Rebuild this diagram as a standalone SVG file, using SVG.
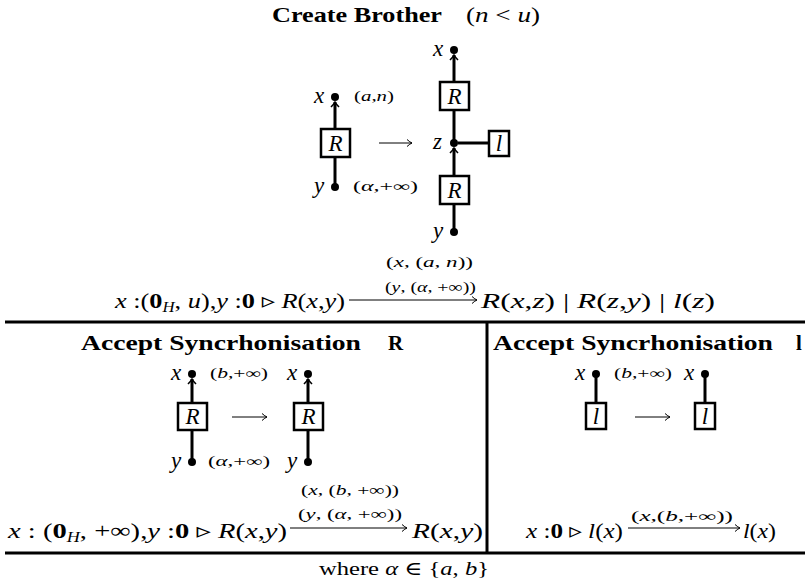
<svg xmlns="http://www.w3.org/2000/svg" width="807" height="581" viewBox="0 0 807 581">
<style>
text{font-family:"Liberation Serif","DejaVu Serif",serif;fill:#000}
.tt{font-weight:bold;font-size:21px}
.m{font-size:22px}
.i{font-style:italic}
.b{font-weight:bold}
.sub{font-size:14px;font-style:italic}
.s{font-size:14px}
.lab{font-size:23px;font-style:italic}
.sm{font-size:15px}
.box{fill:#fff;stroke:#000;stroke-width:2.5}
.e{stroke:#000;stroke-width:3;fill:none}
.th{stroke:#000;stroke-width:1;fill:none}
.sep{stroke:#000;stroke-width:3}
.dot{fill:#000}
</style>
<defs>
<marker id="tip" viewBox="-7 -5 8 10" refX="0" refY="0" markerWidth="8" markerHeight="10" markerUnits="userSpaceOnUse" orient="auto" overflow="visible">
<path d="M-5,-4 Q-2,-1 0,0 Q-2,1 -5,4" fill="none" stroke="#000" stroke-width="1.6"/>
</marker>
<marker id="ar" viewBox="-7 -5 8 10" refX="0" refY="0" markerWidth="8" markerHeight="10" markerUnits="userSpaceOnUse" orient="auto" overflow="visible">
<path d="M-5,-3.5 Q-2,-0.8 0,0 Q-2,0.8 -5,3.5" fill="none" stroke="#000" stroke-width="1"/>
</marker>
</defs>

<g id="frame">
<line class="sep" x1="5" y1="322" x2="805" y2="322"/>
<line class="sep" x1="5" y1="553" x2="805" y2="553"/>
<line class="sep" x1="487" y1="322" x2="487" y2="553"/>
</g>

<!-- titles -->
<text class="tt" x="272" y="22" textLength="170" lengthAdjust="spacingAndGlyphs">Create Brother</text>
<text class="m" x="466" y="22" textLength="74" lengthAdjust="spacingAndGlyphs">(<tspan class="i">n</tspan> &lt; <tspan class="i">u</tspan>)</text>
<text class="tt" x="81" y="350" textLength="280" lengthAdjust="spacingAndGlyphs">Accept Syncrhonisation</text>
<text class="tt" x="388" y="350">R</text>
<text class="tt" x="493" y="350" textLength="280" lengthAdjust="spacingAndGlyphs">Accept Syncrhonisation</text>
<text class="tt" x="796" y="350">l</text>

<g id="connectors">
<line class="e" x1="335" y1="129" x2="335" y2="102" marker-end="url(#tip)"/>
<line class="e" x1="335" y1="157" x2="335" y2="184"/>
<line class="th" x1="379" y1="143" x2="412" y2="143" marker-end="url(#ar)"/>
<line class="e" x1="454" y1="82" x2="454" y2="55" marker-end="url(#tip)"/>
<line class="e" x1="454" y1="110" x2="454" y2="140"/>
<line class="e" x1="458" y1="143" x2="489" y2="143"/>
<line class="e" x1="454" y1="176" x2="454" y2="148" marker-end="url(#tip)"/>
<line class="e" x1="454" y1="204" x2="454" y2="229"/>
<line class="th" x1="349" y1="300" x2="477" y2="300" marker-end="url(#ar)"/>
<line class="e" x1="192" y1="403" x2="192" y2="379" marker-end="url(#tip)"/>
<line class="e" x1="192" y1="430" x2="192" y2="459"/>
<line class="e" x1="308" y1="403" x2="308" y2="379" marker-end="url(#tip)"/>
<line class="e" x1="308" y1="430" x2="308" y2="459"/>
<line class="th" x1="232" y1="417" x2="267" y2="417" marker-end="url(#ar)"/>
<line class="th" x1="290" y1="528" x2="407" y2="528" marker-end="url(#ar)"/>
<line class="e" x1="596" y1="377" x2="596" y2="403"/>
<line class="e" x1="705" y1="377" x2="705" y2="403"/>
<line class="th" x1="635" y1="417" x2="670" y2="417" marker-end="url(#ar)"/>
<line class="th" x1="628" y1="528" x2="740" y2="528" marker-end="url(#ar)"/>
</g>

<!-- Create Brother left -->
<g id="cb-x1"><text class="lab" x="314" y="103">x</text><circle class="dot" cx="335" cy="97" r="4"/></g>
<text class="s" x="354" y="101" textLength="40" lengthAdjust="spacingAndGlyphs">(<tspan class="i">a</tspan>,<tspan class="i">n</tspan>)</text>
<g id="cb-R1"><rect class="box" x="321" y="129" width="29" height="28"/><text class="lab" x="335.5" y="151" text-anchor="middle">R</text></g>
<g id="cb-y1"><text class="lab" x="314" y="193">y</text><circle class="dot" cx="335" cy="187" r="4"/></g>
<text class="s" x="353" y="191" textLength="65" lengthAdjust="spacingAndGlyphs">(<tspan class="i">α</tspan>,+∞)</text>

<!-- Create Brother right -->
<g id="cb-x2"><text class="lab" x="433" y="56">x</text><circle class="dot" cx="454" cy="50" r="4"/></g>
<g id="cb-R2"><rect class="box" x="440" y="82" width="29" height="28"/><text class="lab" x="454.5" y="104" text-anchor="middle">R</text></g>
<g id="cb-z"><text class="lab" x="433" y="149">z</text><circle class="dot" cx="454" cy="143" r="4"/></g>
<g id="cb-l"><rect class="box" x="489" y="131" width="20" height="25"/><text class="lab" x="499" y="151" text-anchor="middle">l</text></g>
<g id="cb-R3"><rect class="box" x="440" y="176" width="29" height="28"/><text class="lab" x="454.5" y="198" text-anchor="middle">R</text></g>
<g id="cb-y2"><text class="lab" x="433" y="238">y</text><circle class="dot" cx="454" cy="232" r="4"/></g>

<text class="sm" x="386" y="267" textLength="87" lengthAdjust="spacingAndGlyphs">(<tspan class="i">x</tspan>, (<tspan class="i">a</tspan>, <tspan class="i">n</tspan>))</text>
<text class="sm" x="385" y="292" textLength="91" lengthAdjust="spacingAndGlyphs">(<tspan class="i">y</tspan>, (<tspan class="i">α</tspan>, +∞))</text>
<text class="m" x="115" y="308" textLength="230" lengthAdjust="spacingAndGlyphs"><tspan class="i">x</tspan> :(<tspan class="b">0</tspan><tspan class="sub" dy="4">H</tspan><tspan dy="-4">, </tspan><tspan class="i">u</tspan>),<tspan class="i">y</tspan> :<tspan class="b">0</tspan> ▹ <tspan class="i">R</tspan>(<tspan class="i">x</tspan>,<tspan class="i">y</tspan>)</text>
<text class="m" x="481" y="308" textLength="234" lengthAdjust="spacingAndGlyphs"><tspan class="i">R</tspan>(<tspan class="i">x</tspan>,<tspan class="i">z</tspan>) | <tspan class="i">R</tspan>(<tspan class="i">z</tspan>,<tspan class="i">y</tspan>) | <tspan class="i">l</tspan>(<tspan class="i">z</tspan>)</text>

<!-- Accept R -->
<g id="ar-x1"><text class="lab" x="171" y="380">x</text><circle class="dot" cx="192" cy="374" r="4"/></g>
<text class="s" x="210" y="378" textLength="58" lengthAdjust="spacingAndGlyphs">(<tspan class="i">b</tspan>,+∞)</text>
<g id="ar-x2"><text class="lab" x="287" y="380">x</text><circle class="dot" cx="308" cy="374" r="4"/></g>
<g id="ar-R1"><rect class="box" x="178" y="403" width="29" height="27"/><text class="lab" x="192.5" y="424" text-anchor="middle">R</text></g>
<g id="ar-R2"><rect class="box" x="294" y="403" width="29" height="27"/><text class="lab" x="308.5" y="424" text-anchor="middle">R</text></g>
<g id="ar-y1"><text class="lab" x="171" y="468">y</text><circle class="dot" cx="192" cy="462" r="4"/></g>
<text class="s" x="208" y="466" textLength="62" lengthAdjust="spacingAndGlyphs">(<tspan class="i">α</tspan>,+∞)</text>
<g id="ar-y2"><text class="lab" x="287" y="468">y</text><circle class="dot" cx="308" cy="462" r="4"/></g>

<text class="sm" x="301" y="495" textLength="98" lengthAdjust="spacingAndGlyphs">(<tspan class="i">x</tspan>, (<tspan class="i">b</tspan>, +∞))</text>
<text class="sm" x="298" y="519" textLength="104" lengthAdjust="spacingAndGlyphs">(<tspan class="i">y</tspan>, (<tspan class="i">α</tspan>, +∞))</text>
<text class="m" x="8" y="538" textLength="279" lengthAdjust="spacingAndGlyphs"><tspan class="i">x</tspan> : (<tspan class="b">0</tspan><tspan class="sub" dy="4">H</tspan><tspan dy="-4">, +∞),</tspan><tspan class="i">y</tspan> :<tspan class="b">0</tspan> ▹ <tspan class="i">R</tspan>(<tspan class="i">x</tspan>,<tspan class="i">y</tspan>)</text>
<text class="m" x="412" y="538" textLength="71" lengthAdjust="spacingAndGlyphs"><tspan class="i">R</tspan>(<tspan class="i">x</tspan>,<tspan class="i">y</tspan>)</text>

<!-- Accept l -->
<g id="al-x1"><text class="lab" x="575" y="380">x</text><circle class="dot" cx="596" cy="374" r="4"/></g>
<text class="s" x="614" y="378" textLength="58" lengthAdjust="spacingAndGlyphs">(<tspan class="i">b</tspan>,+∞)</text>
<g id="al-x2"><text class="lab" x="684" y="380">x</text><circle class="dot" cx="705" cy="374" r="4"/></g>
<g id="al-l1"><rect class="box" x="586" y="403" width="20" height="26"/><text class="lab" x="596" y="424" text-anchor="middle">l</text></g>
<g id="al-l2"><rect class="box" x="695" y="403" width="20" height="26"/><text class="lab" x="705" y="424" text-anchor="middle">l</text></g>

<text class="s" x="631" y="521" textLength="102" lengthAdjust="spacingAndGlyphs">(<tspan class="i">x</tspan>,(<tspan class="i">b</tspan>,+∞))</text>
<text class="m" x="526" y="538" textLength="97" lengthAdjust="spacingAndGlyphs"><tspan class="i">x</tspan> :<tspan class="b">0</tspan> ▹ <tspan class="i">l</tspan>(<tspan class="i">x</tspan>)</text>
<text class="m" x="743" y="538" textLength="33" lengthAdjust="spacingAndGlyphs"><tspan class="i">l</tspan>(<tspan class="i">x</tspan>)</text>

<text x="319" y="575" font-size="19" textLength="170" lengthAdjust="spacingAndGlyphs">where <tspan class="i">α</tspan> ∈ {<tspan class="i">a</tspan>, <tspan class="i">b</tspan>}</text>
</svg>
